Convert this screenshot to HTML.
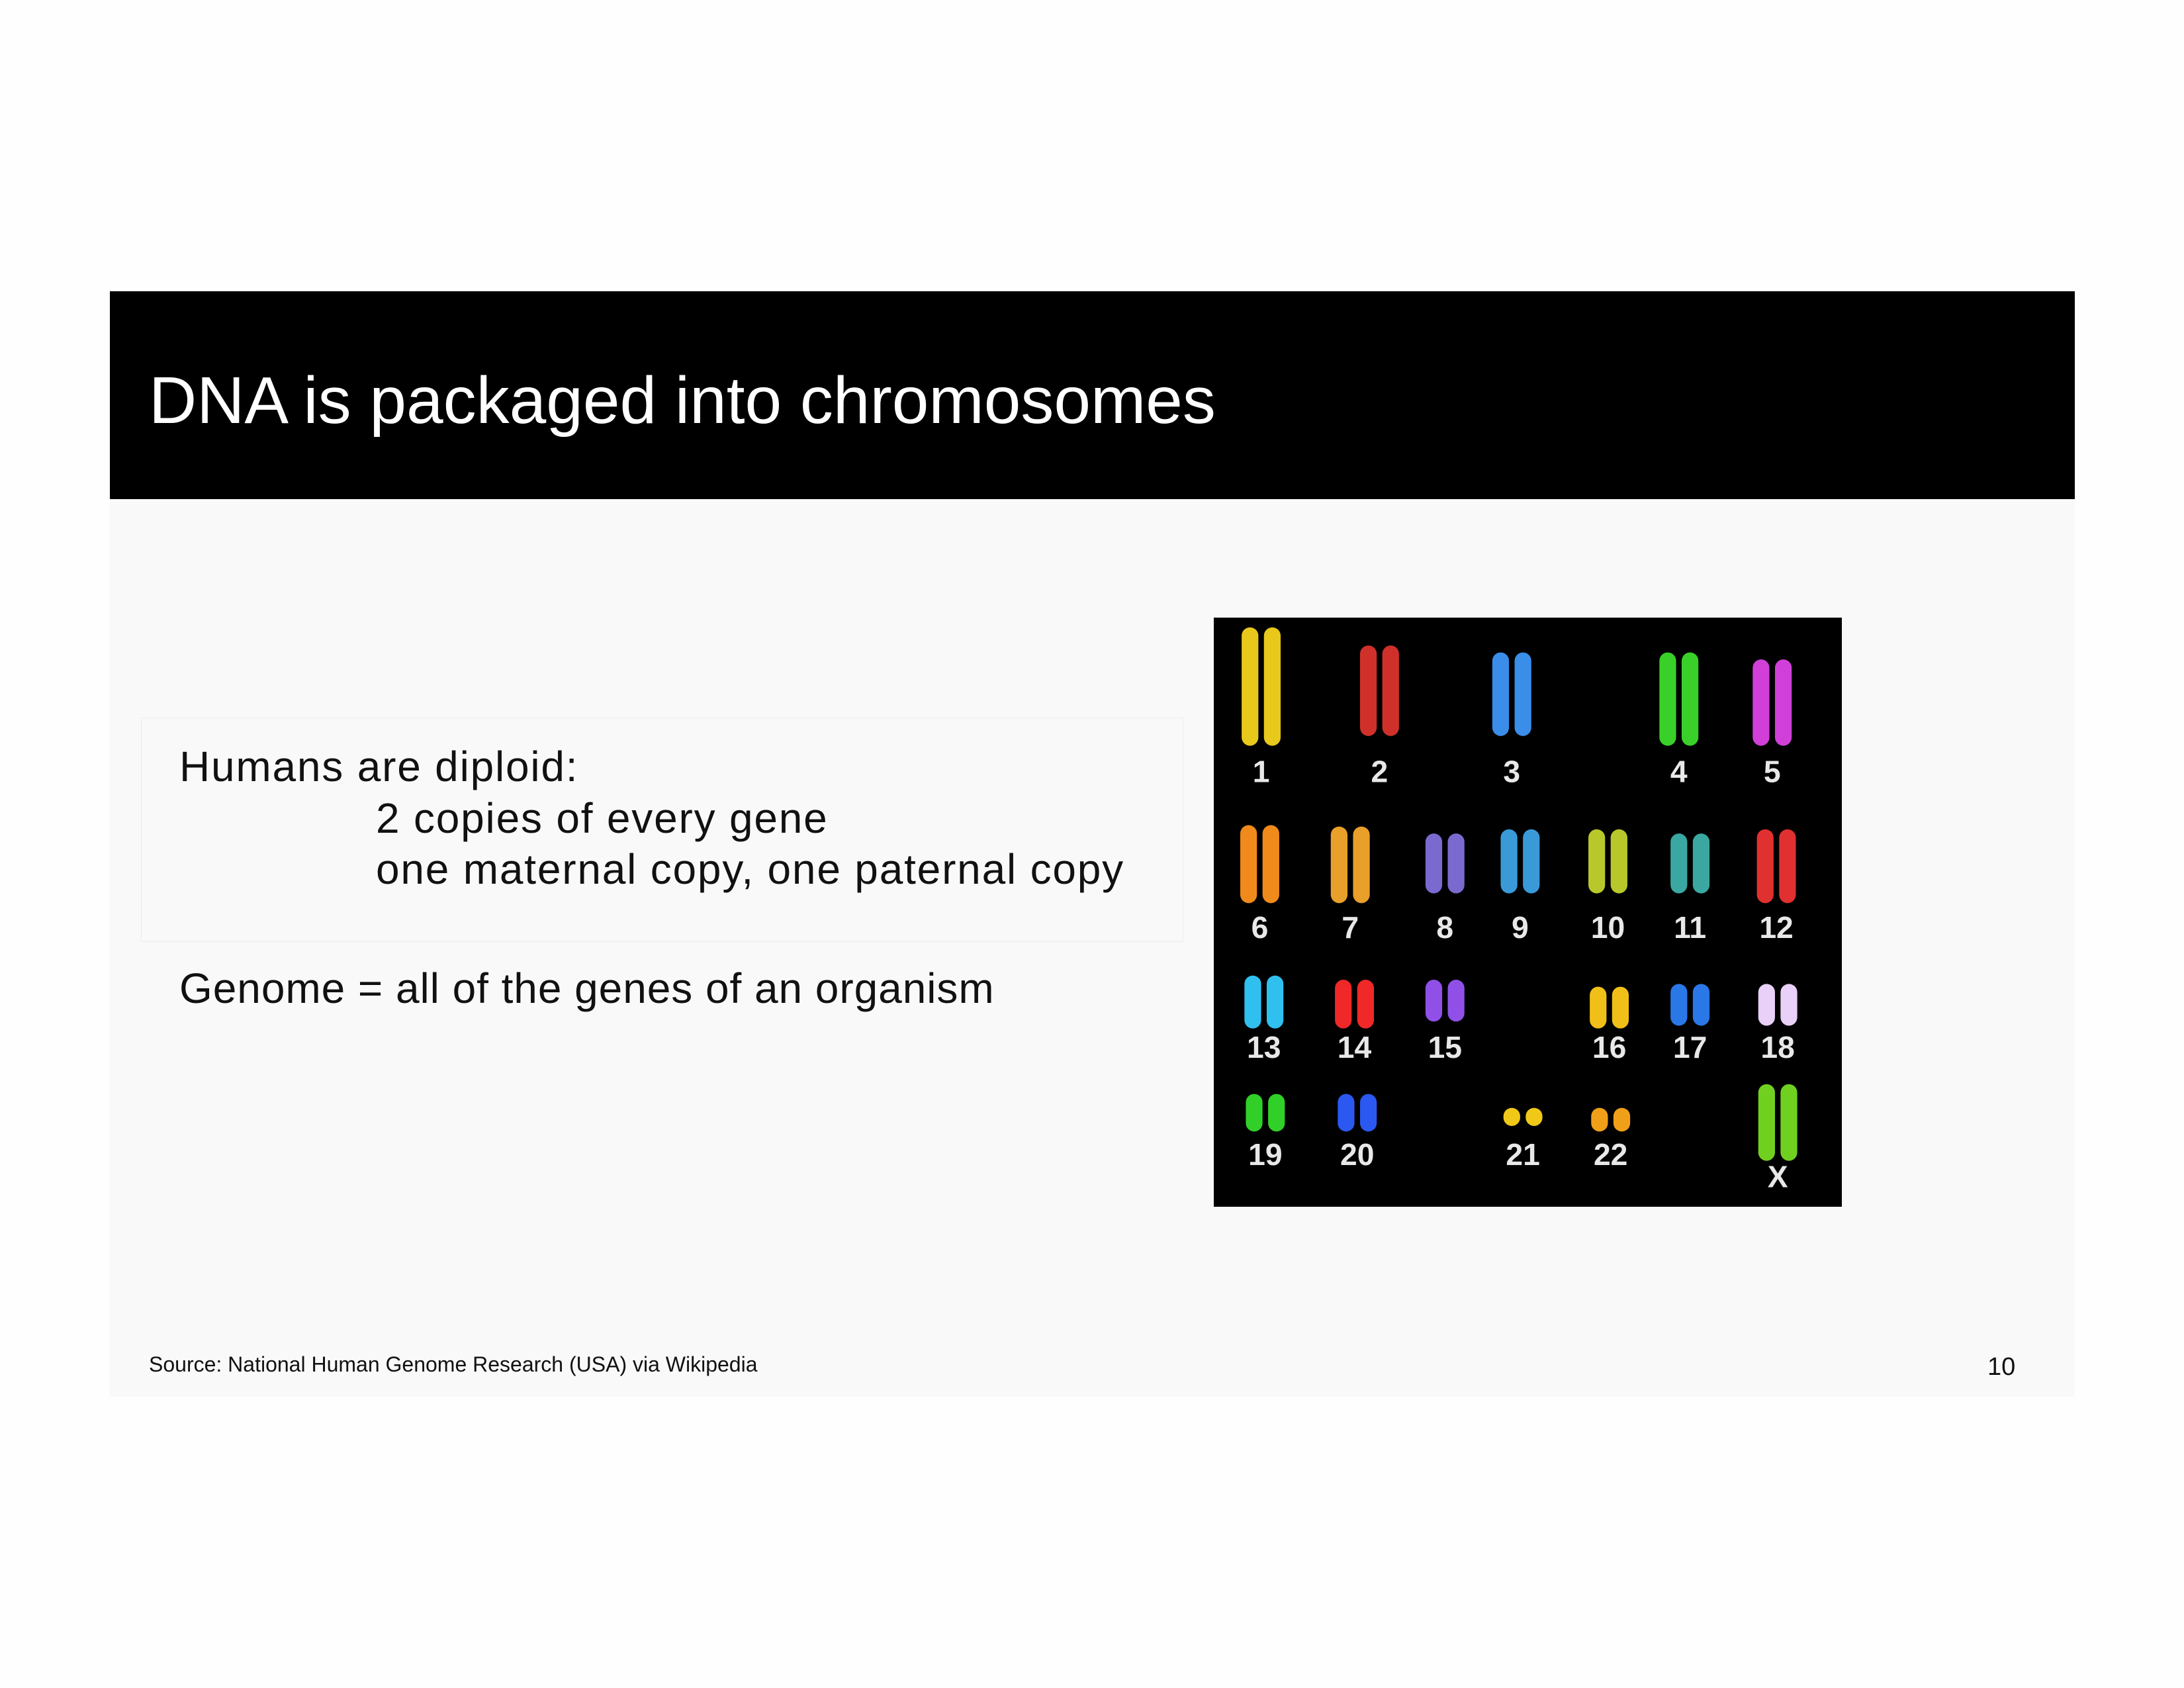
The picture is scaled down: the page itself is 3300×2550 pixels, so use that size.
<!DOCTYPE html>
<html>
<head>
<meta charset="utf-8">
<style>
  html,body{margin:0;padding:0;}
  body{width:3300px;height:2550px;background:#fefefe;position:relative;overflow:hidden;font-family:"Liberation Sans",sans-serif;}
  #slide-bg{position:absolute;left:166px;top:440px;width:2969px;height:1670px;background:#f9f9f9;}
  #title-bar{position:absolute;left:166px;top:440px;width:2969px;height:314px;background:#000;}
  #title{position:absolute;left:225px;top:555px;font-size:100px;color:#fff;white-space:nowrap;line-height:1;}
  #text-box{position:absolute;left:213px;top:1084px;width:1575px;height:339px;border:1px solid #ececec;box-sizing:border-box;}
  .t{position:absolute;font-size:64px;letter-spacing:1.8px;color:#111;white-space:nowrap;line-height:1;}
  #source{position:absolute;left:225px;top:2043px;font-size:32px;color:#111;white-space:nowrap;}
  #page-num{position:absolute;left:3003px;top:2044px;font-size:38px;color:#111;}
  #karyotype{position:absolute;left:1834px;top:933px;width:949px;height:890px;background:#000;}
</style>
</head>
<body>
<div id="slide-bg"></div>
<div id="title-bar"></div>
<div id="title">DNA is packaged into chromosomes</div>
<div id="text-box"></div>
<div class="t" style="left:271px;top:1126px;">Humans are diploid:</div>
<div class="t" style="left:568px;top:1204px;">2 copies of every gene</div>
<div class="t" style="left:568px;top:1281px;">one maternal copy, one paternal copy</div>
<div class="t" style="left:271px;top:1461px;letter-spacing:0.95px;">Genome = all of the genes of an organism</div>
<div id="source">Source: National Human Genome Research (USA) via Wikipedia</div>
<div id="page-num">10</div>

<svg id="karyotype" viewBox="0 0 451 423" xmlns="http://www.w3.org/2000/svg">
  <g id="chroms"></g>
  <g id="labels" font-family="Liberation Sans, sans-serif" font-weight="bold" font-size="22" fill="#e8e8e8" text-anchor="middle"></g>
</svg>

<script>
const chromNames = ['1','2','3','4','5','6','7','8','9','10','11','12','13','14','15','16','17','18','19','20','21','22','X'];
const chromColors = ['#e8c81a','#d0302a','#3a8de8','#3ad02a','#d040d8','#f08a1a','#e8a02a','#7a6ad0','#3a9ad8','#b8c82a','#3aa8a0','#e03030','#30c0f0','#f02828','#9050e8','#f0c018','#2a78e8','#e8d0f8','#30d028','#2a58f0','#f0c818','#f0a018','#70d020'];
const chromX = [34,119,214,334,401,33,98,166,220,283,342,404,36,101,166,284,342,405,37,103,222,285,405];
const chromTop = [7,20,25,25,30,149,150,155,152,152,155,152,257,260,260,265,263,263,342,342,352,352,335];
const chromBottom = [92,85,85,92,92,205,205,198,198,198,198,205,295,295,290,295,293,293,369,369,365,369,390];
const labelY = [118,118,118,118,118,230,230,230,230,230,230,230,316,316,316,316,316,316,393,393,393,393,409];
const g = document.getElementById('chroms');
const lg = document.getElementById('labels');
const NS = 'http://www.w3.org/2000/svg';
chromNames.forEach((n,i)=>{
  [-8,8].forEach(dx=>{
    const r = document.createElementNS(NS,'rect');
    
    
    r.setAttribute('x', chromX[i]+dx-6);
    r.setAttribute('y', chromTop[i]);
    r.setAttribute('width', 12);
    r.setAttribute('height', chromBottom[i]-chromTop[i]);
    r.setAttribute('rx', 6);
    r.setAttribute('fill', chromColors[i]);
    g.appendChild(r);
  });
  const t = document.createElementNS(NS,'text');
  
  
  t.setAttribute('x', chromX[i]);
  t.setAttribute('y', labelY[i]);
  t.textContent = n;
  lg.appendChild(t);
});
</script>
</body>
</html>
